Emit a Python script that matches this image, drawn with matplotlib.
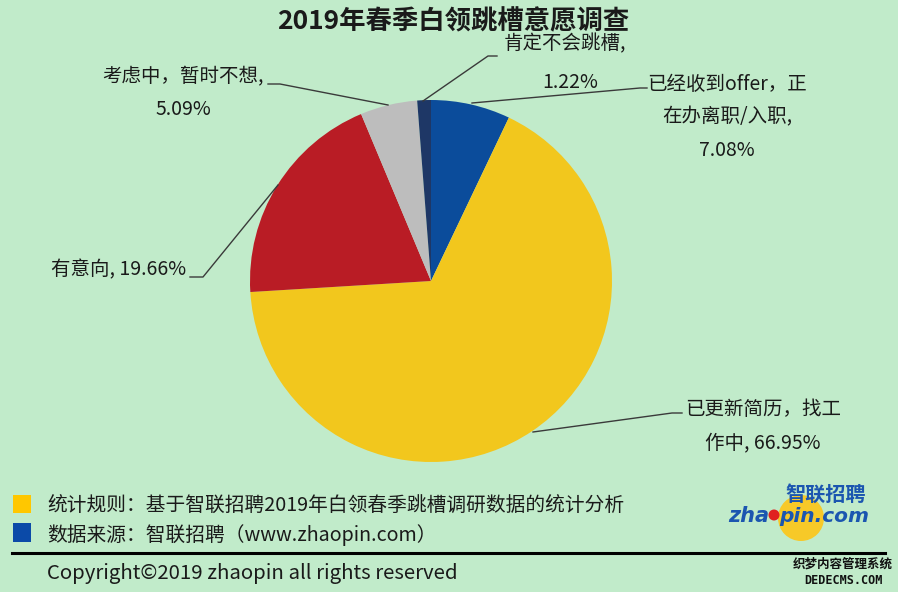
import matplotlib
matplotlib.use('Agg')
import matplotlib.pyplot as plt
from matplotlib.patches import Circle, Rectangle

plt.rcParams['font.family'] = ['Noto Sans CJK SC', 'DejaVu Sans']

# 数据
categories = ['已经收到offer，正\n在办离职/入职,', '已更新简历，找工\n作中,', '有意向,', '考虑中，暂时不想,', '肯定不会跳槽,']
values = [7.08, 66.95, 19.66, 5.09, 1.22]
colors = ['#0B4C9B', '#F2C71D', '#B91C25', '#BDBDBD', '#1E3766']

W, H = 898, 592
BG = '#C1EBCA'
TXT = '#1A1A1A'

def Y(y):
    # 像素坐标（上为0）转换为轴坐标
    return H - y

fig = plt.figure(figsize=(W / 100, H / 100), dpi=100, facecolor=BG)
ax = fig.add_axes([0, 0, 1, 1])
ax.set_facecolor(BG)

ax.pie(values, colors=colors, startangle=90, counterclock=False,
       center=(431, Y(281)), radius=181, wedgeprops=dict(linewidth=0))
ax.set_xlim(0, W)
ax.set_ylim(0, H)
ax.set_aspect('equal')
ax.axis('off')

# 标题
ax.text(453, Y(22), '2019年春季白领跳槽意愿调查', ha='center', va='center',
        fontsize=19, fontweight='bold', color=TXT)

# 标签
lab = dict(ha='center', va='center', fontsize=14, color=TXT, linespacing=1.75,
           multialignment='center')
ax.text(727, Y(117), categories[0] + '\n' + f'{values[0]:.2f}%', **lab)
ax.text(763, Y(426), categories[1] + f' {values[1]:.2f}%', **lab)
ax.text(119, Y(270), categories[2] + f' {values[2]:.2f}%', **lab)
ax.text(183, Y(93), categories[3] + '\n' + f'{values[3]:.2f}%', **lab)
ax.text(565, Y(44), categories[4], **lab)
ax.text(570, Y(82), f'{values[4]:.2f}%', **lab)

# 引导线
lc = dict(color='#3A3A3A', lw=1)
ax.plot([472, 640, 647], [Y(103), Y(88), Y(88)], **lc)
ax.plot([533, 672, 682], [Y(432), Y(413), Y(413)], **lc)
ax.plot([278, 203, 190], [Y(185), Y(277), Y(277)], **lc)
ax.plot([388, 280, 268], [Y(105), Y(84), Y(84)], **lc)
ax.plot([423, 488, 497], [Y(101), Y(56), Y(56)], **lc)

# 图例说明
ax.add_patch(Rectangle((13, Y(513)), 18, 18, color='#FFC700', lw=0))
ax.add_patch(Rectangle((13, Y(542)), 18, 19, color='#0B4AA8', lw=0))
ax.text(47, Y(506), '统计规则：基于智联招聘2019年白领春季跳槽调研数据的统计分析',
        ha='left', va='center', fontsize=14.2, color=TXT)
ax.text(47, Y(535), '数据来源：智联招聘（www.zhaopin.com）',
        ha='left', va='center', fontsize=14.2, color=TXT)
ax.plot([12, 885], [Y(553), Y(553)], color='black', lw=2.2)
ax.text(47, Y(573), 'Copyright©2019 zhaopin all rights reserved',
        ha='left', va='center', fontsize=14.7, color=TXT)

# 标志
ax.add_patch(Circle((801, Y(518)), 23, color='#F7C928', lw=0))
ax.text(826, Y(494), '智联招聘', ha='center', va='center', fontsize=14.5,
        fontweight='bold', color='#1B56B0', style='italic')
ax.text(769, Y(516), 'zha', ha='right', va='center', fontsize=15,
        fontweight='bold', color='#1B56B0', style='italic', family='DejaVu Sans')
ax.add_patch(Circle((774, Y(515)), 5.5, color='#E02020', lw=0))
ax.text(779, Y(516), 'pin.com', ha='left', va='center', fontsize=14.5,
        fontweight='bold', color='#1B56B0', style='italic', family='DejaVu Sans')

# 水印
ax.text(843, Y(564), '织梦内容管理系统', ha='center', va='center', fontsize=9,
        fontweight='bold', color='#111111')
ax.text(843, Y(580), 'DEDECMS.COM', ha='center', va='center', fontsize=8.5,
        fontweight='bold', color='#111111', family='DejaVu Sans Mono')

fig.savefig('out.png', dpi=100, facecolor=BG)
